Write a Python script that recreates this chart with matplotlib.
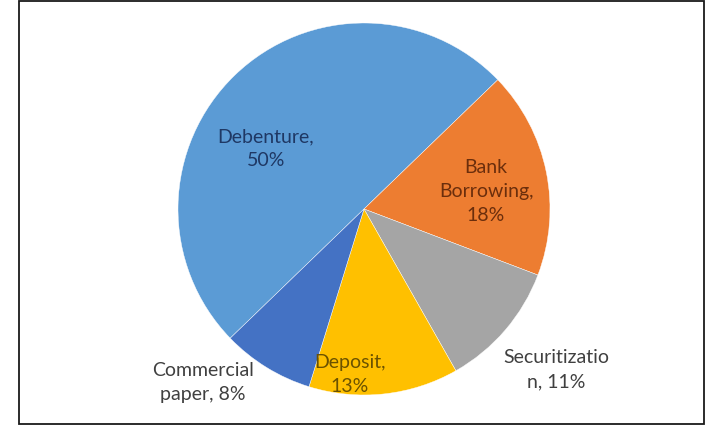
import matplotlib
matplotlib.use("Agg")
import matplotlib.pyplot as plt
from matplotlib.patches import Rectangle

# Funding mix
categories = ["Debenture", "Bank Borrowing", "Securitization", "Deposit", "Commercial paper"]
shares = [50, 18, 11, 13, 8]
label_texts = ["Debenture,\n50%", "Bank\nBorrowing,\n18%", "Securitizatio\nn, 11%",
               "Deposit,\n13%", "Commercial\npaper, 8%"]

colors = ["#5B9BD5", "#ED7D31", "#A5A5A5", "#FFC000", "#4472C4"]
text_colors = ["#1F3864", "#6B2E0C", "#404040", "#6B5200", "#404040"]
# label anchor points, in units of the pie radius
label_xy = [(-0.527, 0.328), (0.656, 0.097), (1.032, -0.858), (-0.075, -0.887), (-0.866, -0.925)]

plt.rcParams["font.family"] = ["Lato", "DejaVu Sans"]

W, H = 708, 427
fig = plt.figure(figsize=(W / 100, H / 100), dpi=100)
fig.patch.set_facecolor("white")

cx, cy, r = 364, 210, 186
ax = fig.add_axes([(cx - r) / W, (H - cy - r) / H, 2 * r / W, 2 * r / H])
ax.pie(shares, colors=colors, startangle=224, counterclock=False,
       wedgeprops=dict(linewidth=0.3, edgecolor="white"), radius=1.0)
ax.set_xlim(-1, 1)
ax.set_ylim(-1, 1)
ax.set_aspect("equal")
ax.axis("off")

for txt, (x, y), c in zip(label_texts, label_xy, text_colors):
    ax.text(x, y, txt, ha="center", va="center", fontsize=14, color=c,
            linespacing=1.5, clip_on=False)

# chart frame
fig.patches.append(Rectangle((19 / W, 2 / H), (704 - 19) / W, (425 - 2) / H,
                             transform=fig.transFigure, fill=False,
                             edgecolor="#1a1a1a", linewidth=1.3))

fig.savefig("out.png", dpi=100)
